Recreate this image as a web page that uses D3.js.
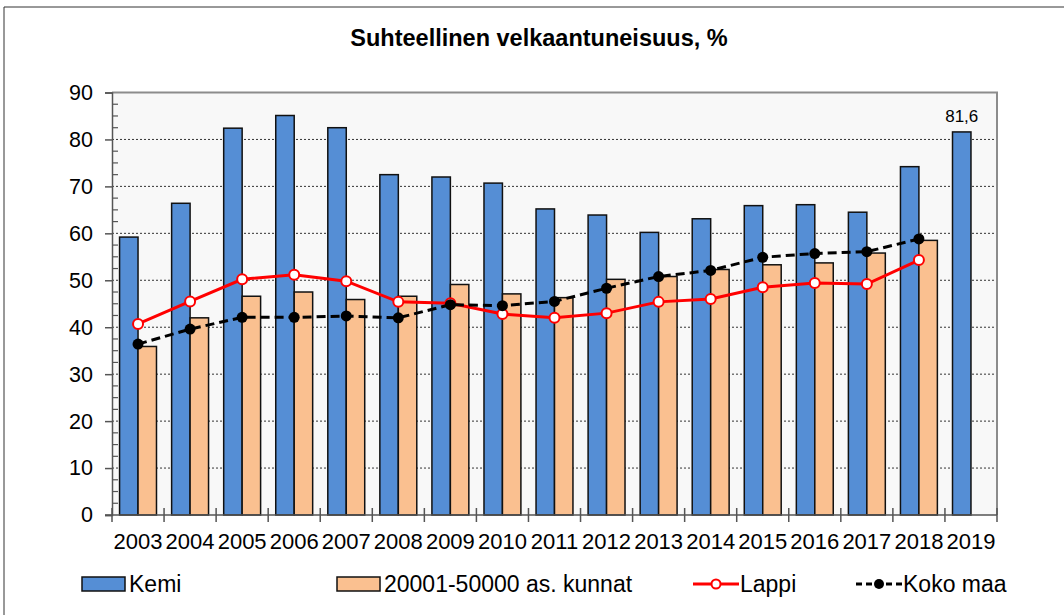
<!DOCTYPE html>
<html>
<head>
<meta charset="utf-8">
<script src="https://cdn.jsdelivr.net/npm/d3@7"></script>
<style>
  body { margin: 0; background: #fff; }
  svg { display: block; font-family: "Liberation Sans", Arial, sans-serif; }
</style>
</head>
<body>
<div id="chart"></div>
<script>
const years = ["2003","2004","2005","2006","2007","2008","2009","2010","2011","2012","2013","2014","2015","2016","2017","2018","2019"];
const kemi = [59.2, 66.4, 82.4, 85.1, 82.5, 72.5, 72.0, 70.7, 65.2, 63.9, 60.2, 63.1, 65.9, 66.1, 64.5, 74.2, 81.6];
const kunnat = [35.9, 42.0, 46.6, 47.5, 45.9, 46.6, 49.1, 47.1, 46.3, 50.2, 50.8, 52.3, 53.3, 53.7, 55.8, 58.5, null];
const lappi = [40.7, 45.5, 50.2, 51.2, 49.8, 45.4, 45.1, 42.8, 42.0, 43.0, 45.4, 46.0, 48.5, 49.4, 49.2, 54.3, null];
const kokoMaa = [36.4, 39.6, 42.1, 42.1, 42.4, 42.0, 44.8, 44.6, 45.5, 48.3, 50.8, 52.1, 54.9, 55.7, 56.1, 58.8, null];
const yTicks = [0, 10, 20, 30, 40, 50, 60, 70, 80, 90];
const legendNames = ["Kemi", "20001-50000 as. kunnat", "Lappi", "Koko maa"];

const W = 1064, H = 615;
const plotL = 112, plotR = 997, plotT = 92.5, plotB = 515;

const svg = d3.select("#chart").append("svg")
  .attr("width", W).attr("height", H);

// outer frame
svg.append("path")
  .attr("d", `M4,${H} V7 H${W}`)
  .attr("fill", "none").attr("stroke", "#333").attr("stroke-width", 1);

svg.append("text")
  .attr("x", 539).attr("y", 46)
  .attr("text-anchor", "middle")
  .attr("font-size", 23.5).attr("font-weight", "bold")
  .text("Suhteellinen velkaantuneisuus, %");

const x = d3.scaleBand().domain(years).range([plotL, plotR]).padding(0);
const xs = d3.scaleBand().domain(["kemi", "kunnat"]).range([0, x.bandwidth()]).paddingOuter(0.41).paddingInner(0);
const y = d3.scaleLinear().domain([0, 90]).range([plotB, plotT]);

// plot background
svg.append("rect")
  .attr("x", plotL).attr("y", plotT)
  .attr("width", plotR - plotL).attr("height", plotB - plotT)
  .attr("fill", "#f8f8f8");

// gridlines
svg.append("g").selectAll("line")
  .data(yTicks.filter(d => d > 0 && d < 90))
  .join("line")
  .attr("x1", plotL).attr("x2", plotR)
  .attr("y1", d => y(d)).attr("y2", d => y(d))
  .attr("stroke", "#333").attr("stroke-width", 1)
  .attr("stroke-dasharray", "2,2");

// plot border top/right
svg.append("path")
  .attr("d", `M${plotL},${plotT} H${plotR} V${plotB}`)
  .attr("fill", "none").attr("stroke", "#8c8c8c").attr("stroke-width", 2);

// bars
const bars = svg.append("g");
bars.selectAll("rect.kemi")
  .data(years.map((yr, i) => ({ yr, v: kemi[i] })))
  .join("rect")
  .attr("class", "kemi")
  .attr("x", d => x(d.yr) + xs("kemi"))
  .attr("y", d => y(d.v))
  .attr("width", xs.bandwidth())
  .attr("height", d => y(0) - y(d.v))
  .attr("fill", "#558ed5").attr("stroke", "#111").attr("stroke-width", 1.5);

bars.selectAll("rect.kunnat")
  .data(years.map((yr, i) => ({ yr, v: kunnat[i] })).filter(d => d.v != null))
  .join("rect")
  .attr("class", "kunnat")
  .attr("x", d => x(d.yr) + xs("kunnat"))
  .attr("y", d => y(d.v))
  .attr("width", xs.bandwidth())
  .attr("height", d => y(0) - y(d.v))
  .attr("fill", "#fac090").attr("stroke", "#111").attr("stroke-width", 1.5);

// data label for last Kemi bar
const last = years.length - 1;
svg.append("text")
  .attr("x", x(years[last]) + xs("kemi") + xs.bandwidth() / 2)
  .attr("y", y(kemi[last]) - 10)
  .attr("text-anchor", "middle")
  .attr("font-size", 17)
  .text(String(kemi[last]).replace(".", ","));

// axes
const yAxis = svg.append("g").attr("transform", `translate(${plotL},0)`)
  .call(d3.axisLeft(y).tickValues(yTicks).tickSize(7).tickPadding(12));
yAxis.select(".domain").attr("stroke", "#555").attr("stroke-width", 1.5);
yAxis.selectAll(".tick line").attr("stroke", "#555").attr("stroke-width", 1.5);
yAxis.selectAll("text").attr("font-size", 21.5).attr("fill", "#000");

// minor y ticks
svg.append("g").selectAll("line")
  .data(d3.range(0, 90, 2.5).filter(d => d % 10 !== 0))
  .join("line")
  .attr("x1", plotL).attr("x2", plotL + 6)
  .attr("y1", d => y(d)).attr("y2", d => y(d))
  .attr("stroke", "#555").attr("stroke-width", 1.2);

// x axis line
svg.append("line")
  .attr("x1", plotL - 7).attr("x2", plotR)
  .attr("y1", plotB).attr("y2", plotB)
  .attr("stroke", "#555").attr("stroke-width", 1.5);

// x boundary ticks
svg.append("g").selectAll("line")
  .data(years.map(d => x(d)).concat([x(years[last]) + x.step()]))
  .join("line")
  .attr("x1", d => d).attr("x2", d => d)
  .attr("y1", plotB - 7).attr("y2", plotB + 7)
  .attr("stroke", "#555").attr("stroke-width", 1.5);

svg.append("g").selectAll("text")
  .data(years)
  .join("text")
  .attr("x", d => x(d) + x.bandwidth() / 2)
  .attr("y", 549)
  .attr("text-anchor", "middle")
  .attr("font-size", 22)
  .text(d => d);

// lines
const line = d3.line()
  .defined(d => d.v != null)
  .x(d => x(d.yr) + x.bandwidth() / 2)
  .y(d => y(d.v));

const lappiData = years.map((yr, i) => ({ yr, v: lappi[i] })).filter(d => d.v != null);
const kokoData = years.map((yr, i) => ({ yr, v: kokoMaa[i] })).filter(d => d.v != null);

svg.append("path").datum(lappiData)
  .attr("d", line).attr("fill", "none")
  .attr("stroke", "#ff0000").attr("stroke-width", 3);
svg.append("g").selectAll("circle")
  .data(lappiData).join("circle")
  .attr("cx", d => x(d.yr) + x.bandwidth() / 2)
  .attr("cy", d => y(d.v))
  .attr("r", 5)
  .attr("fill", "#fff").attr("stroke", "#ff0000").attr("stroke-width", 2);

svg.append("path").datum(kokoData)
  .attr("d", line).attr("fill", "none")
  .attr("stroke", "#000").attr("stroke-width", 3)
  .attr("stroke-dasharray", "9,5");
svg.append("g").selectAll("circle")
  .data(kokoData).join("circle")
  .attr("cx", d => x(d.yr) + x.bandwidth() / 2)
  .attr("cy", d => y(d.v))
  .attr("r", 5.5)
  .attr("fill", "#000");

// legend
const ly = 584;
const lg = svg.append("g");
const legendX = [82, 337, 693, 856];
lg.append("rect").attr("x", legendX[0]).attr("y", ly - 7).attr("width", 43).attr("height", 14)
  .attr("fill", "#558ed5").attr("stroke", "#111").attr("stroke-width", 1.5);
lg.append("rect").attr("x", legendX[1]).attr("y", ly - 7).attr("width", 43).attr("height", 14)
  .attr("fill", "#fac090").attr("stroke", "#111").attr("stroke-width", 1.5);
lg.append("line").attr("x1", legendX[2]).attr("x2", legendX[2] + 46).attr("y1", ly).attr("y2", ly)
  .attr("stroke", "#ff0000").attr("stroke-width", 3);
lg.append("circle").attr("cx", legendX[2] + 23).attr("cy", ly).attr("r", 4.5)
  .attr("fill", "#fff").attr("stroke", "#ff0000").attr("stroke-width", 2);
lg.append("line").attr("x1", legendX[3]).attr("x2", legendX[3] + 46).attr("y1", ly).attr("y2", ly)
  .attr("stroke", "#000").attr("stroke-width", 3).attr("stroke-dasharray", "6,4");
lg.append("circle").attr("cx", legendX[3] + 23).attr("cy", ly).attr("r", 5)
  .attr("fill", "#000");
lg.selectAll("text")
  .data(legendNames)
  .join("text")
  .attr("x", (d, i) => legendX[i] + 47)
  .attr("y", ly + 8)
  .attr("font-size", 23)
  .text(d => d);
</script>
</body>
</html>
